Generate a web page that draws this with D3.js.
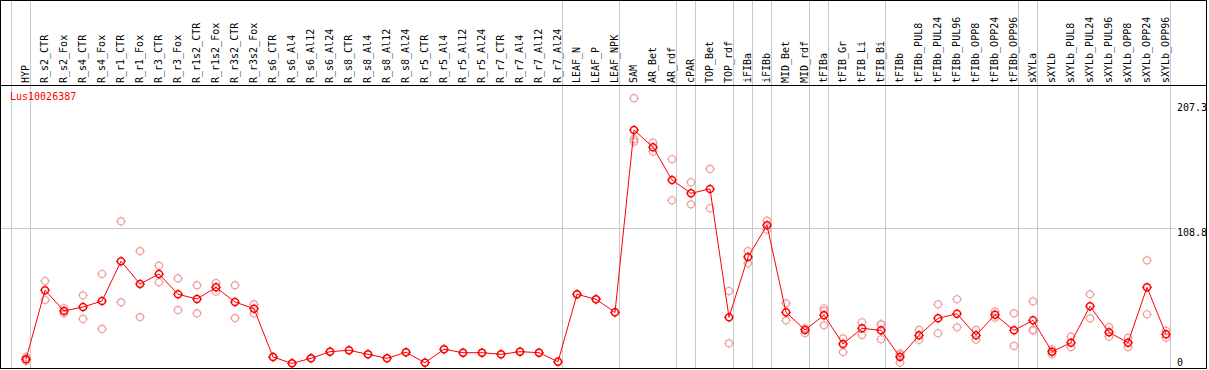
<!DOCTYPE html>
<html>
<head>
<meta charset="utf-8">
<script src="https://cdn.jsdelivr.net/npm/d3@7"></script>
<style>
  body { margin: 0; background: #fff; }
  svg { display: block; }
  text { font-family: "DejaVu Sans Mono", monospace; font-size: 10px; }
</style>
</head>
<body>
<div id="chart"></div>
<script>
const categories = [
    'HYP', 'R_s2_CTR', 'R_s2_Fox', 'R_s4_CTR', 'R_s4_Fox', 'R_r1_CTR', 'R_r1_Fox', 'R_r3_CTR', 'R_r3_Fox',
    'R_r1s2_CTR', 'R_r1s2_Fox', 'R_r3s2_CTR', 'R_r3s2_Fox', 'R_s6_CTR', 'R_s6_Al4', 'R_s6_Al12', 'R_s6_Al24',
    'R_s8_CTR', 'R_s8_Al4', 'R_s8_Al12', 'R_s8_Al24', 'R_r5_CTR', 'R_r5_Al4', 'R_r5_Al12', 'R_r5_Al24',
    'R_r7_CTR', 'R_r7_Al4', 'R_r7_Al12', 'R_r7_Al24', 'LEAF_N', 'LEAF_P', 'LEAF_NPK', 'SAM', 'AR_Bet', 'AR_rdf',
    'cPAR', 'TOP_Bet', 'TOP_rdf', 'iFIBa', 'iFIBb', 'MID_Bet', 'MID_rdf', 'tFIBa', 'tFIB_Gr', 'tFIB_Li', 'tFIB_Bi',
    'tFIBb', 'tFIBb_PUL8', 'tFIBb_PUL24', 'tFIBb_PUL96', 'tFIBb_OPP8', 'tFIBb_OPP24', 'tFIBb_OPP96',
    'sXYLa', 'sXYLb', 'sXYLb_PUL8', 'sXYLb_PUL24', 'sXYLb_PUL96', 'sXYLb_OPP8', 'sXYLb_OPP24', 'sXYLb_OPP96'
];

// mean expression per sample
const means = [
    5.6, 60.0, 43.7, 46.8, 51.5, 82.8, 64.9, 72.8, 56.8,
    53.1, 62.3, 50.7, 45.5, 7.4, 2.4, 6.4, 11.6,
    12.7, 9.5, 6.4, 11.1, 2.9, 13.5, 10.8, 10.8,
    9.5, 11.6, 10.8, 3.7, 56.8, 52.9, 42.6, 186.3, 172.7, 146.9,
    136.4, 139.8, 38.7, 86.2, 111.2, 42.6, 28.7, 40.3, 17.7, 30.0, 28.4,
    7.4, 24.5, 37.9, 41.5, 24.5, 40.7, 28.4,
    36.3, 11.6, 18.7, 47.4, 26.9, 18.7, 62.3, 25.3
];

// individual replicates (pink circles)
const replicates = [
    [7.4, 4.3, 5.8], [67.3, 52.3], [45.8, 41.8], [56.0, 37.4], [72.8, 29.5], [114.3, 50.5], [90.9, 38.9], [79.4, 66.3], [69.4, 44.4],
    [63.9, 41.8], [65.7, 58.9], [63.9, 38.1], [48.9, 41.8], [7.4], [2.4], [6.4], [11.6],
    [12.7], [9.5], [6.4], [11.1], [2.9], [13.5], [10.8], [10.8],
    [9.5], [11.6], [10.8], [3.7], [56.8], [52.9], [42.6], [211.3, 179.0, 177.1], [176.3, 169.2], [163.2, 130.9],
    [145.1, 127.7], [155.6, 124.6], [59.4, 18.2], [90.9, 81.2], [114.8, 107.7], [49.7, 36.3], [30.0, 26.1], [45.8, 43.7, 32.4], [22.1, 11.3], [34.8, 24.7], [33.2, 33.0, 21.4],
    [10.3, 2.9, 9.0], [28.7, 21.0], [48.9, 26.1], [52.9, 30.8], [28.7, 21.0], [43.1, 38.4], [41.8, 16.1],
    [51.3, 28.7, 28.3], [13.5, 9.8], [23.4, 15.1], [56.8, 37.9], [31.0, 23.4], [22.4, 15.3], [83.6, 41.1], [28.1, 22.6]
];

// first sample of each group (vertical separators)
const groupStarts = ['HYP', 'R_s2_CTR', 'LEAF_N', 'SAM', 'cPAR', 'TOP_Bet', 'iFIBa', 'iFIBb', 'MID_Bet',
    'tFIBa', 'tFIB_Gr', 'tFIBb', 'sXYLa', 'sXYLb'];

const yTicks = [207.3, 108.8, 0];
const gridValues = [108.8];
const geneName = 'Lus10026387';

const width = 1209;
const height = 370;
const headerY = 85.5;

const svg = d3.select('#chart')
    .append('svg')
    .attr('width', width)
    .attr('height', height);

const x = d3.scaleBand()
    .domain(categories)
    .range([11.5, 11.5 + categories.length * 19])
    .padding(0);

const y = d3.scaleLinear()
    .domain([0, 207.3])
    .range([366.4, 103.3]);

const px = d => x(d) + 14.5;

// horizontal grid
svg.append('g')
    .selectAll('line')
    .data(gridValues)
    .join('line')
    .attr('x1', 1)
    .attr('x2', 1176)
    .attr('y1', d => Math.round(y(d)) + 0.5)
    .attr('y2', d => Math.round(y(d)) + 0.5)
    .attr('stroke', '#c8c8c8');

// group separators
const sepX = groupStarts.map(d => x(d)).concat([x.range()[1]]);
svg.append('g')
    .selectAll('line')
    .data(sepX)
    .join('line')
    .attr('x1', d => Math.round(d) - 0.5)
    .attr('x2', d => Math.round(d) - 0.5)
    .attr('y1', 0)
    .attr('y2', height - 2)
    .attr('stroke', '#c8c8c8');

// frame + header rule
svg.append('rect')
    .attr('x', 0.5)
    .attr('y', 0.5)
    .attr('width', 1206)
    .attr('height', 368)
    .attr('fill', 'none')
    .attr('stroke', '#000');

svg.append('line')
    .attr('x1', 0)
    .attr('x2', 1207)
    .attr('y1', headerY)
    .attr('y2', headerY)
    .attr('stroke', '#000');

// sample labels, rotated
svg.append('g')
    .selectAll('text')
    .data(categories)
    .join('text')
    .attr('transform', d => `translate(${x(d) + 17.5},83) rotate(-90)`)
    .attr('fill', '#000')
    .text(d => d);

// right value labels
svg.append('g')
    .selectAll('text')
    .data(yTicks)
    .join('text')
    .attr('x', 1177)
    .attr('y', d => Math.min(y(d) + 7.5, 366))
    .attr('fill', '#000')
    .text(d => d);

svg.append('text')
    .attr('x', 10)
    .attr('y', 100)
    .attr('fill', '#ff0000')
    .text(geneName);

// marker: ring with little ticks at N/E/S/W
function marker(g, color, sw) {
    g.append('circle')
        .attr('r', 3.5)
        .attr('fill', 'none')
        .attr('stroke', color)
        .attr('stroke-width', sw);
    g.append('path')
        .attr('d', 'M0,-5V-3.5M0,3.5V5M-5,0H-3.5M3.5,0H5')
        .attr('stroke', color)
        .attr('stroke-width', 1);
}

const repPoints = [];
categories.forEach((c, i) => {
    replicates[i].forEach(v => repPoints.push({ c: c, v: v }));
});

svg.append('g')
    .selectAll('g')
    .data(repPoints)
    .join('g')
    .attr('transform', d => `translate(${px(d.c)},${y(d.v)})`)
    .each(function () { marker(d3.select(this), '#f0a0a0', 1.2); });

const line = d3.line()
    .x((d, i) => px(categories[i]))
    .y(d => y(d));

svg.append('path')
    .datum(means)
    .attr('d', line)
    .attr('fill', 'none')
    .attr('stroke', '#ff0000')
    .attr('stroke-width', 1);

svg.append('g')
    .selectAll('g')
    .data(means)
    .join('g')
    .attr('transform', (d, i) => `translate(${px(categories[i])},${y(d)})`)
    .each(function () { marker(d3.select(this), '#ff0000', 1.5); });
</script>
</body>
</html>
